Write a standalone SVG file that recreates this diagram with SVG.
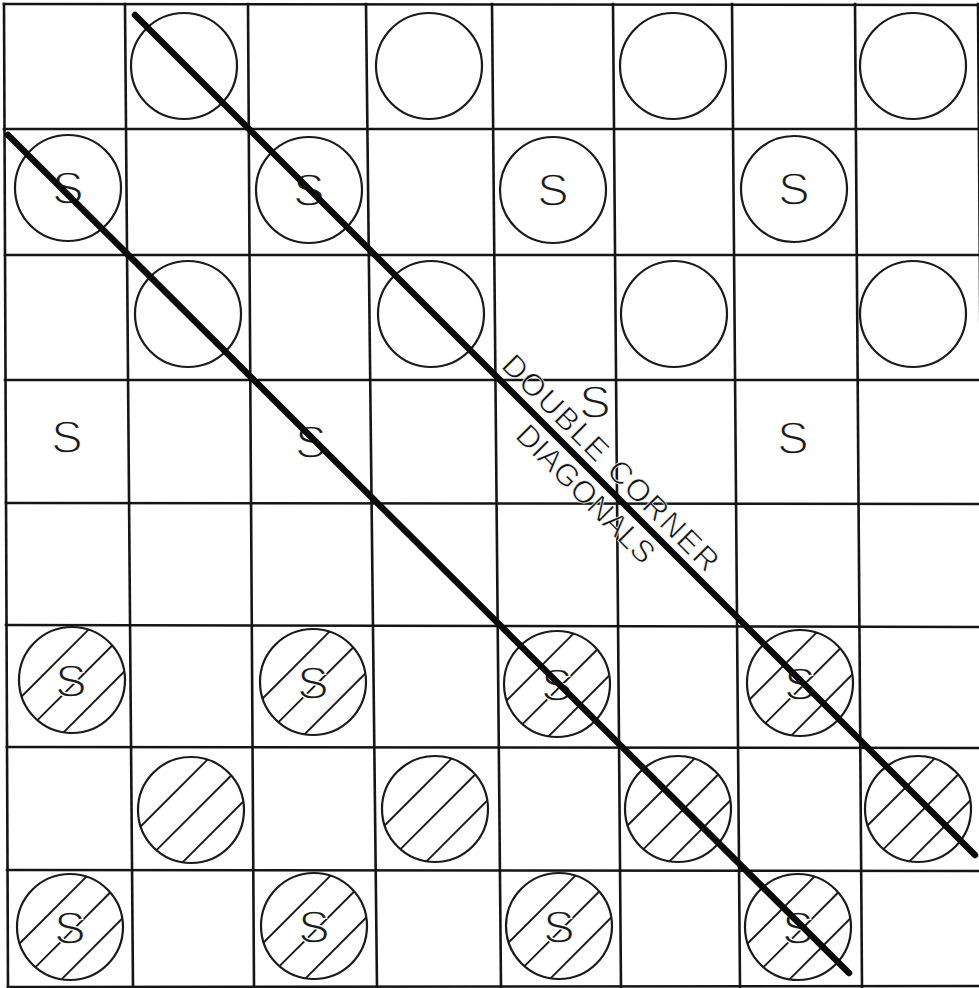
<svg xmlns="http://www.w3.org/2000/svg" width="979" height="988" viewBox="0 0 979 988">
<style>
.grid line{stroke:#151515;stroke-width:2.6;stroke-linecap:square}
.pc{fill:none;stroke:#1a1a1a;stroke-width:2.2}
.h{stroke:#1a1a1a;stroke-width:1.9}
.s{font-family:"Liberation Sans",Arial,sans-serif;font-size:47px;fill:#1a1a1a;stroke:#fff;stroke-width:1.3;text-anchor:middle}
.lab{font-family:"Liberation Sans",Arial,sans-serif;font-size:31px;fill:#111;stroke:#fff;stroke-width:0.7}
.diag{stroke:#0a0a0a;stroke-width:6.5;stroke-linecap:round;fill:none}
</style>
<defs>
<g id="plain"><circle r="53" class="pc"/></g>
<g id="hatch">
<circle r="53" class="pc"/>
<line class="h" x1="16.5" y1="-50.4" x2="-50.4" y2="16.5"/>
<line class="h" x1="40.2" y1="-34.5" x2="-34.5" y2="40.2"/>
<line class="h" x1="52.3" y1="-8.5" x2="-8.5" y2="52.3"/>
</g>
</defs>
<rect width="979" height="988" fill="#fff"/>
<g id="grid" class="grid">
<line x1="4" y1="4" x2="8" y2="987"/>
<line x1="125" y1="4" x2="133" y2="987"/>
<line x1="248" y1="4" x2="254" y2="987"/>
<line x1="366" y1="4" x2="377" y2="987"/>
<line x1="492" y1="4" x2="501" y2="987"/>
<line x1="613" y1="4" x2="621" y2="987"/>
<line x1="732" y1="4" x2="740" y2="987"/>
<line x1="855" y1="4" x2="862" y2="987"/>
<line x1="978" y1="4" x2="985" y2="987"/>
<line x1="4" y1="4" x2="979" y2="5"/>
<line x1="4" y1="129" x2="979" y2="129"/>
<line x1="5" y1="255" x2="979" y2="255"/>
<line x1="5" y1="380" x2="979" y2="380"/>
<line x1="6" y1="503" x2="979" y2="504"/>
<line x1="6" y1="625" x2="979" y2="627"/>
<line x1="7" y1="747" x2="979" y2="748"/>
<line x1="7" y1="870" x2="979" y2="871"/>
<line x1="8" y1="987" x2="979" y2="986"/>
</g>
<g id="pieces">
<g id="r0c1"><use href="#plain" x="184" y="66"/></g>
<g id="r0c3"><use href="#plain" x="429" y="66"/></g>
<g id="r0c5"><use href="#plain" x="673" y="66"/></g>
<g id="r0c7"><use href="#plain" x="913" y="66"/></g>
<g id="r1c0"><use href="#plain" x="68" y="188"/><text class="s" x="68" y="204">S</text></g>
<g id="r1c2"><use href="#plain" x="309" y="190"/><text class="s" x="309" y="206">S</text></g>
<g id="r1c4"><use href="#plain" x="553" y="190"/><text class="s" x="553" y="206">S</text></g>
<g id="r1c6"><use href="#plain" x="794" y="189"/><text class="s" x="794" y="205">S</text></g>
<g id="r2c1"><use href="#plain" x="188" y="314"/></g>
<g id="r2c3"><use href="#plain" x="431" y="314"/></g>
<g id="r2c5"><use href="#plain" x="674" y="314"/></g>
<g id="r2c7"><use href="#plain" x="913" y="314"/></g>
<g id="r3c0"><text class="s" x="67" y="453">S</text></g>
<g id="r3c2"><text class="s" x="311" y="458">S</text></g>
<g id="r3c4"><text class="s" x="595" y="418">S</text></g>
<g id="r3c6"><text class="s" x="793" y="454">S</text></g>
<g id="r5c0"><use href="#hatch" x="72" y="680"/><text class="s" x="71" y="697">S</text></g>
<g id="r5c2"><use href="#hatch" x="313" y="682"/><text class="s" x="313" y="699">S</text></g>
<g id="r5c4"><use href="#hatch" x="557" y="684"/><text class="s" x="557" y="701">S</text></g>
<g id="r5c6"><use href="#hatch" x="800" y="683"/><text class="s" x="800" y="700">S</text></g>
<g id="r6c1"><use href="#hatch" x="191" y="810"/></g>
<g id="r6c3"><use href="#hatch" x="435" y="809"/></g>
<g id="r6c5"><use href="#hatch" x="678" y="809"/></g>
<g id="r6c7"><use href="#hatch" x="918" y="809"/></g>
<g id="r7c0"><use href="#hatch" x="70" y="927"/><text class="s" x="70" y="944">S</text></g>
<g id="r7c2"><use href="#hatch" x="314" y="926"/><text class="s" x="314" y="943">S</text></g>
<g id="r7c4"><use href="#hatch" x="559" y="926"/><text class="s" x="559" y="943">S</text></g>
<g id="r7c6"><use href="#hatch" x="798" y="927"/><text class="s" x="798" y="944">S</text></g>
</g>
<g id="connectors">
<line class="diag" x1="135" y1="15" x2="975" y2="855"/>
<line class="diag" x1="8" y1="135" x2="849" y2="973"/>
</g>
<g id="labels">
<text class="lab" transform="translate(500,367) rotate(45)" textLength="292" lengthAdjust="spacing">DOUBLE CORNER</text>
<text class="lab" transform="translate(514,437) rotate(45)" textLength="182" lengthAdjust="spacing">DIAGONALS</text>
</g>
</svg>
